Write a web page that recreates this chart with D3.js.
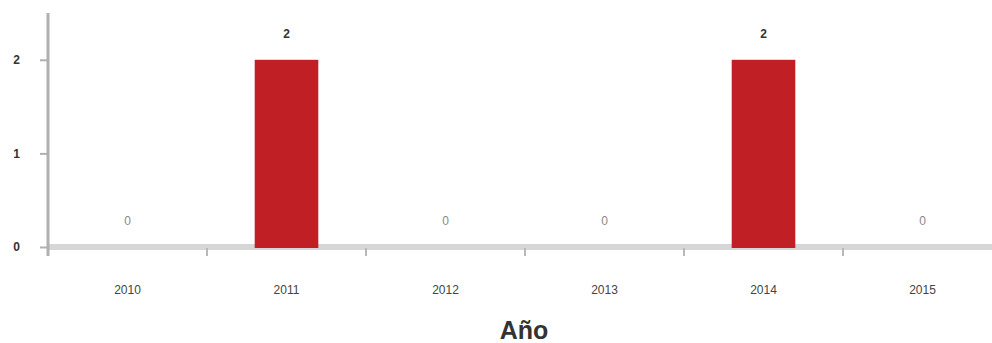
<!DOCTYPE html>
<html>
<head>
<meta charset="utf-8">
<script src="https://cdn.jsdelivr.net/npm/d3@7"></script>
<style>
  body { margin: 0; background: #fff; }
  svg { display: block; font-family: "Liberation Sans", Arial, sans-serif; }
</style>
</head>
<body>
<svg width="992" height="343"></svg>
<script>
  // chart data
  const years = ['2010', '2011', '2012', '2013', '2014', '2015'];
  const counts = [0, 2, 0, 0, 2, 0];
  const yTicks = [0, 1, 2];
  const xTitle = 'Año';

  const svg = d3.select('svg');
  const data = counts.map((v, i) => ({ year: years[i], v }));

  const x = d3.scaleBand()
    .domain(years)
    .range([48, 1002])
    .paddingInner(0.6)
    .paddingOuter(0.3);

  const y = d3.scaleLinear()
    .domain([0, 2.5])
    .range([247, 13]);

  // x baseline (thick light grey)
  svg.append('line')
    .attr('x1', 48).attr('x2', 992)
    .attr('y1', y(0)).attr('y2', y(0))
    .attr('stroke', '#d6d6d6')
    .attr('stroke-width', 6);

  // x axis labels
  const xAxisG = svg.append('g')
    .attr('transform', `translate(0,${y(0)})`)
    .call(d3.axisBottom(x).tickSize(0).tickPadding(38));
  xAxisG.select('.domain').remove();
  xAxisG.selectAll('text')
    .attr('font-size', 12)
    .attr('fill', '#444');

  // short separators between categories
  const sepX = d => x(d) - x.step() * x.paddingInner() / 2;
  svg.append('g').selectAll('line')
    .data(years.slice(1))
    .enter().append('line')
      .attr('x1', sepX)
      .attr('x2', sepX)
      .attr('y1', y(0) + 1)
      .attr('y2', y(0) + 9)
      .attr('stroke', '#b8b8b8')
      .attr('stroke-width', 2);

  // y axis
  const yAxisG = svg.append('g')
    .attr('transform', 'translate(48,0)')
    .call(d3.axisLeft(y)
      .tickValues(yTicks)
      .tickFormat(d3.format('d'))
      .tickSize(8)
      .tickPadding(20));
  yAxisG.select('.domain')
    .attr('d', 'M0,13V256')
    .attr('stroke', '#b0b0b0')
    .attr('stroke-width', 3);
  yAxisG.selectAll('.tick line')
    .attr('stroke', '#b0b0b0')
    .attr('stroke-width', 2);
  yAxisG.selectAll('text')
    .attr('font-size', 12)
    .attr('font-weight', 'bold')
    .attr('fill', '#333');

  // bars
  svg.append('g').selectAll('rect')
    .data(data.filter(d => d.v > 0))
    .enter().append('rect')
      .attr('x', d => x(d.year))
      .attr('y', d => y(d.v))
      .attr('width', x.bandwidth())
      .attr('height', d => y(0) - y(d.v) + 1)
      .attr('fill', '#c01f26');

  // value labels
  svg.append('g').selectAll('text')
    .data(data)
    .enter().append('text')
      .attr('x', d => x(d.year) + x.bandwidth() / 2)
      .attr('y', d => y(d.v) - 22)
      .attr('text-anchor', 'middle')
      .attr('font-size', 12)
      .attr('fill', d => d.v > 0 ? '#333' : '#888')
      .attr('font-weight', d => d.v > 0 ? 'bold' : 'normal')
      .text(d => d.v);

  // x axis title
  svg.append('text')
    .attr('x', 524)
    .attr('y', 339)
    .attr('text-anchor', 'middle')
    .attr('font-size', 25)
    .attr('font-weight', 'bold')
    .attr('fill', '#333')
    .text(xTitle);
</script>
</body>
</html>
